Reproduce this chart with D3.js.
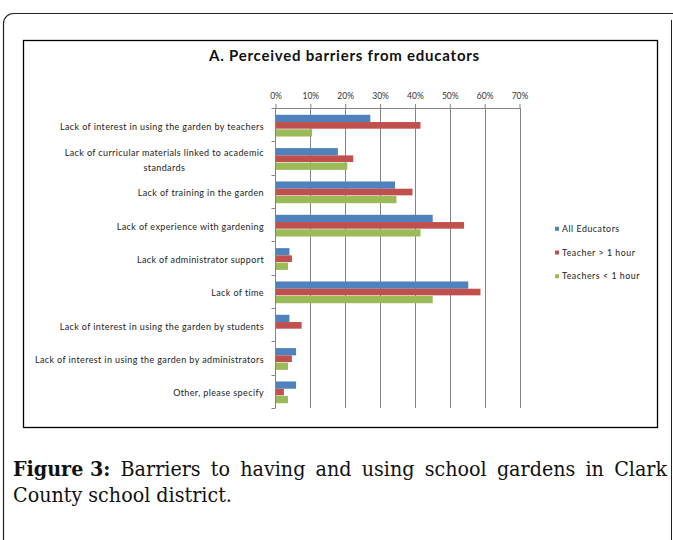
<!DOCTYPE html>
<html><head><meta charset="utf-8">
<script src="https://cdn.jsdelivr.net/npm/d3@7"></script>
<style>html,body{margin:0;padding:0;background:#fff;}svg{display:block;}</style>
</head><body>
<svg id="chart" width="673" height="540"></svg>
<script>
const categories = [
  "Lack of interest in using the garden by teachers",
  "Lack of curricular materials linked to academic standards",
  "Lack of training in the garden",
  "Lack of experience with gardening",
  "Lack of administrator support",
  "Lack of time",
  "Lack of interest in using the garden by students",
  "Lack of interest in using the garden by administrators",
  "Other, please specify"
];
const seriesNames = ["All Educators", "Teacher > 1 hour", "Teachers < 1 hour"];
const allEducators   = [27.2, 17.9, 34.3, 45.1, 4.0, 55.3, 4.0, 5.9, 5.9];
const teacherOver1   = [41.6, 22.3, 39.3, 54.1, 4.7, 58.8, 7.5, 4.7, 2.4];
const teacherUnder1  = [10.5, 20.6, 34.7, 41.6, 3.6, 45.1, 0.0, 3.6, 3.6];
const tickValues = [0, 10, 20, 30, 40, 50, 60, 70];
const seriesColors = ["#4f81bd", "#c0504d", "#9bbb59"];
const seriesValues = [allEducators, teacherOver1, teacherUnder1];

const svg = d3.select("#chart");
const sansFont = "Lato, 'Open Sans', sans-serif";

function measure(txt, font, size, weight, ls) {
  const t = svg.append("text").attr("font-family", font).attr("font-size", size)
    .attr("font-weight", weight || "normal").attr("letter-spacing", ls || 0).text(txt);
  const w = t.node().getComputedTextLength(); t.remove(); return w;
}

// outer rounded frame
svg.append("rect").attr("x", 3.5).attr("y", 13.5).attr("width", 680).attr("height", 600)
  .attr("rx", 10).attr("fill", "none").attr("stroke", "#222").attr("stroke-width", 1.2);
svg.append("line").attr("x1", 671.5).attr("x2", 671.5).attr("y1", 20).attr("y2", 540)
  .attr("stroke", "#222").attr("stroke-width", 1);

// chart box
svg.append("rect").attr("x", 23.5).attr("y", 40.5).attr("width", 634).attr("height", 387)
  .attr("fill", "#fff").attr("stroke", "#000").attr("stroke-width", 1.3);

// title
const titleText = "A. Perceived barriers from educators";
const tw = measure(titleText, sansFont, 15, "bold", 0);
const tls = (271 - tw) / titleText.length;
svg.append("text").attr("x", 209).attr("y", 61)
  .attr("font-family", sansFont).attr("font-weight", "bold").attr("letter-spacing", tls)
  .attr("font-size", 15).attr("fill", "#111").text(titleText);

const x = d3.scaleLinear().domain([0, 70]).range([275.5, 519.5]);
const y = d3.scaleBand().domain(categories).range([108, 408]).paddingInner(0).paddingOuter(0);
const inner = d3.scaleBand().domain(d3.range(3)).range([1, y.bandwidth() + 1]).paddingOuter(0.8).paddingInner(0);

// gridlines
const g = svg.append("g");
g.selectAll("line.grid").data(tickValues.slice(1)).join("line")
  .attr("x1", d => Math.round(x(d)) + 0.5).attr("x2", d => Math.round(x(d)) + 0.5)
  .attr("y1", 108).attr("y2", 408).attr("stroke", "#858585").attr("stroke-width", 1);

// bars
seriesValues.forEach((vals, si) => {
  g.selectAll("rect.s" + si).data(categories).join("rect")
    .attr("x", x(0)).attr("y", (d) => y(d) + inner(si))
    .attr("width", (d, i) => x(vals[i]) - x(0))
    .attr("height", inner.bandwidth() - (si === 1 ? 0.6 : 0))
    .attr("fill", seriesColors[si]);
});

// top axis
const xAxis = d3.axisTop(x).tickValues(tickValues).tickFormat(d => d + "%").tickSize(4).tickSizeOuter(0);
const ax = svg.append("g").attr("transform", "translate(0,108)").call(xAxis);
ax.select(".domain").attr("stroke", "#858585");
ax.selectAll(".tick line").attr("stroke", "#858585");
ax.selectAll(".tick text").attr("font-family", sansFont).attr("font-size", 8.5)
  .attr("fill", "#333").attr("dy", "-2.5");

// left axis
svg.append("line").attr("x1", 275.5).attr("x2", 275.5).attr("y1", 108).attr("y2", 408)
  .attr("stroke", "#858585");
const bounds = categories.map(c => y(c)).concat([408]);
svg.selectAll("line.ytick").data(bounds).join("line")
  .attr("x1", 271.5).attr("x2", 275.5).attr("y1", d => Math.round(d) + 0.5).attr("y2", d => Math.round(d) + 0.5)
  .attr("stroke", "#858585");

// category labels
const labSize = 9;
const refW = measure(categories[0], sansFont, labSize, "normal", 0);
const labLS = (204 - refW) / categories[0].length;
const wrapped = {"Lack of curricular materials linked to academic standards": ["Lack of curricular materials linked to academic", "standards"]};
categories.forEach(c => {
  const cy = y(c) + y.bandwidth() / 2;
  const lines = wrapped[c] || [c];
  if (lines.length === 1) {
    svg.append("text").attr("x", 264).attr("y", cy + 5).attr("text-anchor", "end")
      .attr("font-family", sansFont).attr("font-size", labSize).attr("letter-spacing", labLS)
      .attr("fill", "#222").text(c);
  } else {
    const w = measure(lines[0], sansFont, labSize, "normal", labLS);
    const cx = 264 - w / 2;
    lines.forEach((l, li) => {
      svg.append("text").attr("x", cx).attr("y", cy - 2 + li * 14.6).attr("text-anchor", "middle")
        .attr("font-family", sansFont).attr("font-size", labSize).attr("letter-spacing", labLS)
        .attr("fill", "#222").text(l);
    });
  }
});

// legend
const legY = [229, 252.7, 276.4];
const legW = measure("Teachers < 1 hour", sansFont, 8.8, "normal", 0);
const legLS = (78 - legW) / 17;
seriesNames.forEach((n, i) => {
  svg.append("rect").attr("x", 555).attr("y", legY[i] - 2.2).attr("width", 4).attr("height", 4)
    .attr("fill", seriesColors[i]);
  svg.append("text").attr("x", 562).attr("y", legY[i] + 3).attr("font-family", sansFont)
    .attr("font-size", 8.8).attr("letter-spacing", legLS).attr("fill", "#222").text(n);
});

// caption
const capFont = "'DejaVu Serif Condensed', 'DejaVu Serif', 'Liberation Serif', serif";
const line2 = "County school district.";
const w10 = measure(line2, capFont, 10, "normal", 0);
const capSize = 10 * 219 / w10;
const line1 = ["Figure 3:", "Barriers", "to", "having", "and", "using", "school", "gardens", "in", "Clark"];
const widths = line1.map((w, i) => measure(w, capFont, capSize, i === 0 ? "bold" : "normal", 0));
const left = 13, right = 667;
const gap = (right - left - d3.sum(widths)) / (line1.length - 1);
let cx = left;
line1.forEach((w, i) => {
  svg.append("text").attr("x", cx).attr("y", 476).attr("font-family", capFont).attr("font-size", capSize)
    .attr("font-weight", i === 0 ? "bold" : "normal").attr("fill", "#111").text(w);
  cx += widths[i] + gap;
});
svg.append("text").attr("x", left).attr("y", 502).attr("font-family", capFont).attr("font-size", capSize)
  .attr("fill", "#111").text(line2);
</script>
</body></html>
